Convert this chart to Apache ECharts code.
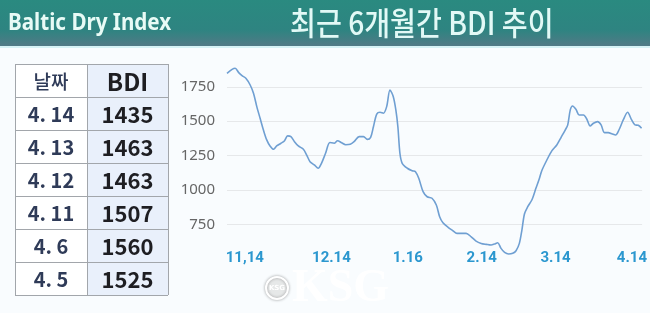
<!DOCTYPE html>
<html>
<head>
<meta charset="utf-8">
<script src="https://cdn.jsdelivr.net/npm/echarts@6/dist/echarts.min.js"></script>
<style>
html,body{margin:0;padding:0;background:#f9fcfe;}
#c{width:650px;height:313px;}
</style>
</head>
<body>
<div id="c"></div>
<script>
// ---- data ----
const headerTitle = 'Baltic Dry Index';
const chartTitle = '최근 6개월간 BDI 추이';
const tableHead = ['날짜', 'BDI'];
const tableDates = ['4. 14', '4. 13', '4. 12', '4. 11', '4. 6', '4. 5'];
const tableValues = [1435, 1463, 1463, 1507, 1560, 1525];

const xLabelText = ['11,14', '12.14', '1.16', '2.14', '3.14', '4.14'];
const xLabelDay = [7, 41, 71, 100, 129, 159];
const yTickValues = [750, 1000, 1250, 1500, 1750];

const dayIdx = [0,2.0,3.2,4.6,5.9,7.4,9.1,10.4,11.7,13.0,
  14.3,15.6,16.9,18.3,19.5,21.2,22.6,23.8,25.1,26.5,
  28.0,30.0,31.3,32.6,34.3,35.8,37.1,38.7,40.4,42.1,
  43.4,45.0,46.6,48.4,49.9,51.9,53.6,55.1,56.4,57.5,
  58.8,60.1,61.4,62.7,64.0,65.3,66.3,67.1,67.9,68.8,
  70.8,72.7,74.0,75.3,77.0,78.6,80.5,82.2,83.5,84.8,
  86.8,88.7,90.3,92.0,93.9,95.9,97.8,99.8,101.8,103.7,
  105.0,106.3,107.6,109.0,110.6,112.2,113.5,114.8,115.8,116.8,
  118.1,119.7,121.3,122.6,123.6,125.6,127.6,129.5,131.2,132.8,
  133.8,134.8,135.7,137.0,138.3,140.0,141.3,142.6,143.9,145.5,
  146.9,148.2,149.7,151.3,152.6,153.9,155.6,157.3,158.9,160.2,
  161.5,162.8];
const bdiValues = [1848,1877,1885,1853,1831,1812,1763,1703,1606,1521,
  1436,1364,1320,1296,1320,1340,1358,1393,1388,1351,
  1320,1296,1254,1206,1182,1158,1194,1267,1345,1340,
  1358,1344,1329,1332,1351,1388,1388,1368,1383,1460,
  1552,1565,1558,1606,1727,1678,1582,1460,1267,1194,
  1158,1140,1133,1085,988,951,940,891,806,762,
  729,704,685,685,685,660,629,612,605,600,
  607,617,576,547,535,540,559,612,709,826,
  879,927,1012,1080,1140,1218,1286,1327,1383,1436,
  1473,1582,1611,1587,1545,1545,1514,1465,1485,1497,
  1473,1417,1417,1407,1400,1436,1509,1565,1509,1473,
  1470,1449];

// ---- build ----
const seriesData = dayIdx.map((d, i) => [d, bdiValues[i]]);

const tbl = { x0: 15, xMid: 87, x1: 168, y0: 64, rowH: 33 };
const graphics = [];
// header band
graphics.push({ type: 'rect', left: 0, top: 0, z: 0, shape: { width: 650, height: 46 },
  style: { fill: new echarts.graphic.LinearGradient(0, 0, 0, 1, [
    { offset: 0, color: '#2a8a80' }, { offset: 0.65, color: '#2e8481' }, { offset: 1, color: '#527a86' }]) } });
graphics.push({ type: 'rect', left: 0, top: 46, z: 0, shape: { width: 650, height: 2 }, style: { fill: '#d6f2f5' } });
graphics.push({ type: 'text', x: 8, y: 23, scaleX: 0.86, z: 5,
  style: { text: headerTitle, fill: '#e8fbf6', font: 'bold 24px "Noto Sans", sans-serif', verticalAlign: 'middle', align: 'left' } });
graphics.push({ type: 'text', x: 290, y: 23, scaleX: 0.88, z: 5,
  style: { text: chartTitle, fill: '#e2f9f6', font: '500 32px "Noto Sans CJK KR", sans-serif', verticalAlign: 'middle', align: 'left' } });

// table
const nRows = tableDates.length + 1;
for (let r = 0; r < nRows; r++) {
  const y = tbl.y0 + r * tbl.rowH;
  graphics.push({ type: 'rect', z: 1, shape: { x: tbl.x0, y: y, width: tbl.xMid - tbl.x0, height: tbl.rowH }, style: { fill: '#ffffff' } });
  graphics.push({ type: 'rect', z: 1, shape: { x: tbl.xMid, y: y, width: tbl.x1 - tbl.xMid, height: tbl.rowH }, style: { fill: '#e9f0fb' } });
  const cy = y + tbl.rowH / 2 + 1;
  const leftText = r === 0 ? tableHead[0] : tableDates[r - 1];
  const rightText = r === 0 ? tableHead[1] : String(tableValues[r - 1]);
  graphics.push({ type: 'text', z: 3, style: { x: (tbl.x0 + tbl.xMid) / 2, y: cy, text: leftText, align: 'center', verticalAlign: 'middle',
    fill: '#2f3b58', font: (r === 0 ? '500 19px' : 'bold 20px') + ' "Noto Sans CJK KR", sans-serif' } });
  graphics.push({ type: 'text', z: 3, style: { x: (tbl.xMid + tbl.x1) / 2, y: cy, text: rightText, align: 'center', verticalAlign: 'middle',
    fill: '#1e1e22', font: (r === 0 ? 'bold 24px' : 'bold 22px') + ' "Noto Sans CJK KR", sans-serif' } });
}
for (let r = 0; r <= nRows; r++) {
  const y = tbl.y0 + r * tbl.rowH + 0.5;
  graphics.push({ type: 'line', z: 2, shape: { x1: tbl.x0, y1: y, x2: tbl.x1, y2: y }, style: { stroke: '#a2a6ab', lineWidth: 1 } });
}
[tbl.x0, tbl.xMid, tbl.x1].forEach(x => {
  graphics.push({ type: 'line', z: 2, shape: { x1: x + 0.5, y1: tbl.y0, x2: x + 0.5, y2: tbl.y0 + nRows * tbl.rowH }, style: { stroke: '#a2a6ab', lineWidth: 1 } });
});

// watermark
graphics.push({ type: 'circle', z: 6, shape: { cx: 277, cy: 288, r: 11 },
  style: { fill: 'rgba(255,255,255,0.5)', stroke: '#ffffff', lineWidth: 2, shadowBlur: 3, shadowColor: 'rgba(0,0,0,0.35)' } });
graphics.push({ type: 'text', z: 7, style: { x: 277, y: 288, text: 'KSG', align: 'center', verticalAlign: 'middle',
  fill: '#ffffff', font: 'bold 7px "DejaVu Sans", sans-serif', shadowBlur: 2, shadowColor: 'rgba(0,0,0,0.4)' } });
graphics.push({ type: 'text', z: 7, style: { x: 292, y: 289, text: 'KSG', align: 'left', verticalAlign: 'middle',
  fill: '#ffffff', font: 'bold 46px "Liberation Serif", "DejaVu Serif", serif', shadowBlur: 4, shadowOffsetX: 1, shadowOffsetY: 1, shadowColor: 'rgba(0,0,0,0.35)' } });

const chart = echarts.init(document.getElementById('c'), null, { renderer: 'canvas' });
chart.setOption({
  backgroundColor: '#f9fcfe',
  animation: false,
  graphic: graphics,
  grid: { left: 227, right: 6, top: 52.4, bottom: 54.2, containLabel: false },
  xAxis: {
    type: 'value', min: 0, max: 163,
    axisLine: { show: false }, axisTick: { show: false }, splitLine: { show: false },
    axisLabel: {
      customValues: xLabelDay,
      formatter: v => { const i = xLabelDay.indexOf(v); return i >= 0 ? xLabelText[i] : ''; },
      color: '#2b97cf', fontWeight: 'bold', fontSize: 15, fontFamily: 'Roboto, sans-serif', margin: -8
    }
  },
  yAxis: {
    type: 'value', min: 500, max: 2000, interval: 250,
    axisLine: { show: false }, axisTick: { show: false },
    axisLabel: { color: '#666666', fontSize: 15, fontFamily: '"Noto Sans", sans-serif', margin: 12,
      formatter: v => yTickValues.indexOf(v) >= 0 ? String(v) : '' },
    splitLine: { show: true, showMinLine: false, showMaxLine: false, lineStyle: { color: '#e6e8ea', width: 1 } }
  },
  series: [{
    type: 'line', data: seriesData, smooth: 0.3, showSymbol: false,
    lineStyle: { color: '#6f9fd2', width: 1.6 }, z: 4
  }]
});
</script>
</body>
</html>
